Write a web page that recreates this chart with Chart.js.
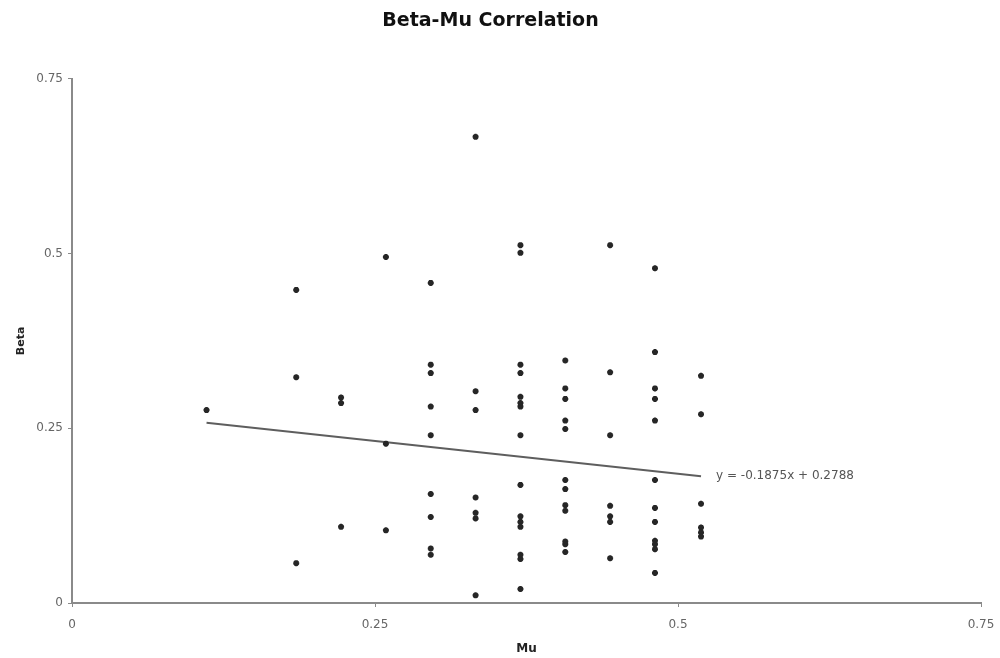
<!DOCTYPE html>
<html>
<head>
<meta charset="utf-8">
<script src="https://cdn.jsdelivr.net/npm/chart.js@4/dist/chart.umd.min.js"></script>
<style>
  html, body { margin: 0; padding: 0; background: #fff; }
  #wrap { width: 1000px; height: 658px; position: relative; }
</style>
</head>
<body>
<div id="wrap"><canvas id="c" width="1000" height="658"></canvas></div>
<script>
// ---- Data ----
const muValues = [
  0.111,
  0.185, 0.185, 0.185,
  0.222, 0.222, 0.222,
  0.259, 0.259, 0.259,
  0.296, 0.296, 0.296, 0.296, 0.296, 0.296, 0.296, 0.296, 0.296,
  0.333, 0.333, 0.333, 0.333, 0.333, 0.333, 0.333,
  0.370, 0.370, 0.370, 0.370, 0.370, 0.370, 0.370, 0.370, 0.370, 0.370, 0.370, 0.370, 0.370, 0.370, 0.370,
  0.407, 0.407, 0.407, 0.407, 0.407, 0.407, 0.407, 0.407, 0.407, 0.407, 0.407, 0.407,
  0.444, 0.444, 0.444, 0.444, 0.444, 0.444, 0.444,
  0.481, 0.481, 0.481, 0.481, 0.481, 0.481, 0.481, 0.481, 0.481, 0.481, 0.481, 0.481,
  0.519, 0.519, 0.519, 0.519, 0.519, 0.519
];
const betaValues = [
  0.276,
  0.448, 0.323, 0.057,
  0.294, 0.286, 0.109,
  0.495, 0.228, 0.104,
  0.458, 0.341, 0.329, 0.281, 0.240, 0.156, 0.123, 0.078, 0.069,
  0.667, 0.303, 0.276, 0.151, 0.129, 0.121, 0.011,
  0.512, 0.501, 0.341, 0.329, 0.295, 0.286, 0.281, 0.240, 0.169, 0.124, 0.116, 0.109, 0.069, 0.063, 0.020,
  0.347, 0.307, 0.292, 0.261, 0.249, 0.176, 0.163, 0.140, 0.132, 0.088, 0.084, 0.073,
  0.512, 0.330, 0.240, 0.139, 0.124, 0.116, 0.064,
  0.479, 0.359, 0.307, 0.292, 0.261, 0.176, 0.136, 0.116, 0.089, 0.084, 0.077, 0.043,
  0.325, 0.270, 0.142, 0.108, 0.101, 0.095
];
const trendSlope = [-0.1875];
const trendIntercept = [0.2788];
const trendLabel = ["y = -0.1875x + 0.2788"];
const xTickValues = [0, 0.25, 0.5, 0.75];
const xTickLabels = ["0", "0.25", "0.5", "0.75"];
const yTickValues = [0, 0.25, 0.5, 0.75];
const yTickLabels = ["0", "0.25", "0.5", "0.75"];
const chartTitle = "Beta-Mu Correlation";
const xTitle = "Mu";
const yTitle = "Beta";

// ---- Build datasets ----
const points = muValues.map((m, i) => ({ x: m, y: betaValues[i] }));
const xMin = Math.min(...muValues), xMax = Math.max(...muValues);
const trendPoints = [xMin, xMax].map(x => ({ x: x, y: trendSlope[0] * x + trendIntercept[0] }));

const axisGray = '#8a8a8a';
const tickFont = { family: 'DejaVu Sans', size: 12 };

const eqLabelPlugin = {
  id: 'eqLabel',
  afterDatasetsDraw(chart) {
    const meta = chart.getDatasetMeta(1);
    const last = meta.data[meta.data.length - 1];
    const ctx = chart.ctx;
    ctx.save();
    ctx.font = '12px "DejaVu Sans"';
    ctx.fillStyle = '#555';
    ctx.textAlign = 'left';
    ctx.textBaseline = 'middle';
    ctx.fillText(trendLabel[0], last.x + 15, last.y);
    ctx.restore();
  }
};

function tickCb(values, labels) {
  return function (v) {
    const i = values.findIndex(t => Math.abs(t - v) < 1e-9);
    return i >= 0 ? labels[i] : '';
  };
}

new Chart(document.getElementById('c'), {
  type: 'scatter',
  data: {
    datasets: [
      {
        label: 'Beta',
        data: points,
        pointStyle: 'star',
        radius: 3,
        borderWidth: 2,
        borderColor: '#262626',
        backgroundColor: '#262626',
        showLine: false
      },
      {
        label: 'Trend',
        type: 'line',
        data: trendPoints,
        borderColor: '#5e5e5e',
        borderWidth: 2,
        pointRadius: 0,
        fill: false,
        tension: 0
      }
    ]
  },
  options: {
    responsive: false,
    animation: false,
    events: [],
    layout: { padding: { left: 0, right: 19, top: 0, bottom: 0 } },
    plugins: {
      legend: { display: false },
      tooltip: { enabled: false },
      title: {
        display: true,
        text: chartTitle,
        color: '#111',
        font: { family: 'DejaVu Sans', size: 19, weight: 'bold', lineHeight: 1.2 },
        padding: { top: 10, bottom: 46 }
      }
    },
    scales: {
      x: {
        type: 'linear',
        min: 0, max: 0.75,
        afterBuildTicks(s) { s.ticks = xTickValues.map(v => ({ value: v })); },
        afterFit(s) { s.height = 55; s.paddingLeft = 0; s.paddingRight = 0; },
        ticks: {
          color: '#666',
          font: tickFont,
          padding: 11,
          maxRotation: 0,
          autoSkip: false,
          callback: tickCb(xTickValues, xTickLabels)
        },
        grid: { display: true, drawOnChartArea: false, drawTicks: true, tickLength: 4, color: axisGray, lineWidth: 1 },
        border: { display: true, color: axisGray, width: 2 },
        title: {
          display: true, text: xTitle, color: '#222',
          font: { family: 'DejaVu Sans', size: 12, weight: 'bold', lineHeight: 1.2 },
          padding: { top: 0, bottom: 2 }
        }
      },
      y: {
        type: 'linear',
        min: 0, max: 0.75,
        afterBuildTicks(s) { s.ticks = yTickValues.map(v => ({ value: v })); },
        afterFit(s) { s.width = 72; s.paddingTop = 0; s.paddingBottom = 0; },
        ticks: {
          color: '#666',
          font: tickFont,
          padding: 5,
          autoSkip: false,
          callback: tickCb(yTickValues, yTickLabels)
        },
        grid: { display: true, drawOnChartArea: false, drawTicks: true, tickLength: 4, color: axisGray, lineWidth: 1 },
        border: { display: true, color: axisGray, width: 2 },
        title: {
          display: true, text: yTitle, color: '#222',
          font: { family: 'DejaVu Sans', size: 11, weight: 'bold', lineHeight: 1.2 },
          padding: { top: 15, bottom: 0 }
        }
      }
    }
  },
  plugins: [eqLabelPlugin]
});
</script>
</body>
</html>
